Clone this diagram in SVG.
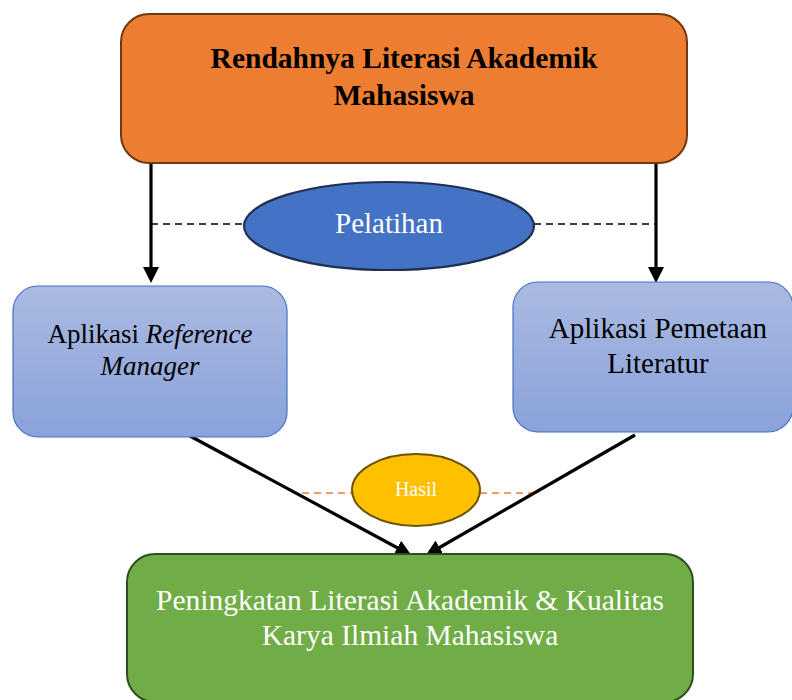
<svg xmlns="http://www.w3.org/2000/svg" width="792" height="700" viewBox="0 0 792 700">
<defs>
<linearGradient id="blueGrad" x1="0" y1="0" x2="0" y2="1">
<stop offset="0" stop-color="#AABAE1"/>
<stop offset="1" stop-color="#8AA2DA"/>
</linearGradient>
<marker id="arrow" markerUnits="userSpaceOnUse" markerWidth="16" markerHeight="16" viewBox="0 0 16 16" refX="11" refY="8" orient="auto">
<path d="M0,0 L16,8 L0,16 z" fill="#000"/>
</marker>
<style>
.serif{font-family:"Liberation Serif","Times New Roman",serif;}
.conn{stroke:#000;stroke-width:3.2;fill:none;}
.dash{stroke:#000;stroke-width:1.5;stroke-dasharray:7,5;fill:none;}
.odash{stroke:#ED7D31;stroke-width:1.5;stroke-dasharray:7,5;fill:none;}
.blue{fill:url(#blueGrad);stroke:#4472C4;stroke-width:1.2;}
</style>
</defs>
<rect width="792" height="700" fill="#fff"/>
<g id="connectors">
<line class="dash" x1="151" y1="224" x2="246" y2="224"/>
<line class="dash" x1="534" y1="224" x2="656" y2="224"/>
<line class="odash" x1="302" y1="493" x2="352" y2="493"/>
<line class="odash" x1="480" y1="493" x2="534" y2="493"/>
<line class="conn" x1="151" y1="163" x2="151" y2="278" marker-end="url(#arrow)"/>
<line class="conn" x1="656" y1="163" x2="656" y2="278" marker-end="url(#arrow)"/>
<line class="conn" x1="190" y1="436" x2="407" y2="553" marker-end="url(#arrow)"/>
<line class="conn" x1="635" y1="435" x2="430" y2="553" marker-end="url(#arrow)"/>
</g>
<g id="problem">
<rect x="121" y="14" width="566" height="149" rx="28" fill="#ED7D31" stroke="#6E3A16" stroke-width="2"/>
<text class="serif" x="404" y="68" text-anchor="middle" font-size="29.5" font-weight="bold" fill="#000">Rendahnya Literasi Akademik</text>
<text class="serif" x="404" y="105" text-anchor="middle" font-size="29.5" font-weight="bold" fill="#000">Mahasiswa</text>
</g>
<g id="pelatihan">
<ellipse cx="389" cy="226" rx="145" ry="44" fill="#4472C4" stroke="#1F3050" stroke-width="2.2"/>
<text class="serif" x="389" y="233" text-anchor="middle" font-size="29" fill="#fff">Pelatihan</text>
</g>
<g id="reference-manager">
<rect class="blue" x="13" y="286" width="274" height="151" rx="25"/>
<text class="serif" x="150" y="343" text-anchor="middle" font-size="27" fill="#000">Aplikasi <tspan font-style="italic">Reference</tspan></text>
<text class="serif" x="150" y="375" text-anchor="middle" font-size="27" font-style="italic" fill="#000">Manager</text>
</g>
<g id="pemetaan">
<rect class="blue" x="513" y="282" width="280" height="150" rx="25"/>
<text class="serif" x="658" y="338" text-anchor="middle" font-size="29" fill="#000">Aplikasi Pemetaan</text>
<text class="serif" x="658" y="373" text-anchor="middle" font-size="29" fill="#000">Literatur</text>
</g>
<g id="hasil">
<ellipse cx="416" cy="490" rx="64" ry="36" fill="#FFC000" stroke="#6B5200" stroke-width="2"/>
<text class="serif" x="416" y="496" text-anchor="middle" font-size="20" fill="#fff">Hasil</text>
</g>
<g id="outcome">
<rect x="127" y="554" width="566" height="148" rx="28" fill="#70AD47" stroke="#2F4F1E" stroke-width="2"/>
<text class="serif" x="410" y="610" text-anchor="middle" font-size="29.5" fill="#fff">Peningkatan Literasi Akademik &amp; Kualitas</text>
<text class="serif" x="410" y="645" text-anchor="middle" font-size="29.5" fill="#fff">Karya Ilmiah Mahasiswa</text>
</g>
</svg>
